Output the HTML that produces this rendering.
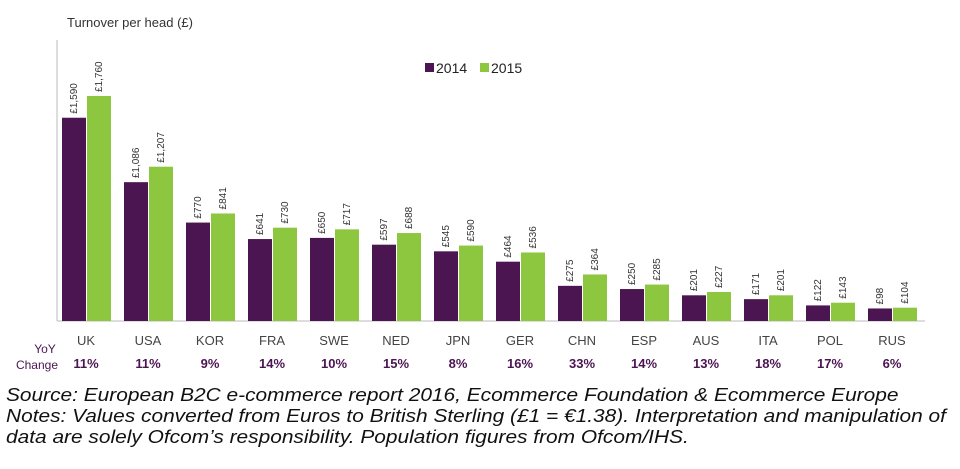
<!DOCTYPE html>
<html><head><meta charset="utf-8"><style>
body{margin:0;background:#fff;width:960px;height:469px;overflow:hidden;font-family:"Liberation Sans",sans-serif}
svg{display:block}
.note{position:absolute;left:6px;font-style:italic;font-size:18px;color:#111;white-space:nowrap;line-height:21px;transform:scaleX(1.16);transform-origin:0 0}
</style></head><body>
<svg id="chart" width="960" height="469" style="position:absolute;left:0;top:0"></svg>
<div class="note" style="top:385px">Source: European B2C e-commerce report 2016, Ecommerce Foundation &amp; Ecommerce Europe<br>Notes: Values converted from Euros to British Sterling (£1 = €1.38). Interpretation and manipulation of<br>data are solely Ofcom’s responsibility. Population figures from Ofcom/IHS.</div>
<script>
const categories=["UK","USA","KOR","FRA","SWE","NED","JPN","GER","CHN","ESP","AUS","ITA","POL","RUS"];
const values2014=[1590,1086,770,641,650,597,545,464,275,250,201,171,122,98];
const values2015=[1760,1207,841,730,717,688,590,536,364,285,227,201,143,104];
const yoy=["11%","11%","9%","14%","10%","15%","8%","16%","33%","14%","13%","18%","17%","6%"];
const svg=document.getElementById('chart');const NS="http://www.w3.org/2000/svg";
const base=321,scale=225/1760,x0=62,step=62,bw=24;
const y=v=>base-v*scale;const xg=i=>x0+i*step;
function mk(t,a,txt){const e=document.createElementNS(NS,t);for(const k in a)e.setAttribute(k,a[k]);if(txt!=null)e.textContent=txt;svg.appendChild(e);return e;}
const fmt=v=>"£"+v.toLocaleString("en-GB");
let e;
e=mk('line',{x1:57,y1:40,x2:57,y2:base,stroke:'#bbb','stroke-width':1});


e=mk('line',{x1:57,y1:base,x2:925,y2:base,stroke:'#bbb','stroke-width':1});


e=mk('text',{x:67,y:27,'font-size':13,fill:'#333'},'Turnover per head (£)');


categories.forEach((c,i)=>{
 const xa=xg(i),xb=xa+bw+1;
 e=mk('rect',{x:xa,y:y(values2014[i]),width:bw,height:values2014[i]*scale,fill:'#4b1552'});
 
 
 e=mk('rect',{x:xb,y:y(values2015[i]),width:bw,height:values2015[i]*scale,fill:'#8dc63f'});
 
 
 [[xa,values2014[i]],[xb,values2015[i]]].forEach(([xx,v],k)=>{
  const cx=xx+bw/2+3,cy=y(v)-4;
  e=mk('text',{x:cx,y:cy,'font-size':10,fill:'#333',transform:`rotate(-90 ${cx} ${cy})`},fmt(v));
  
  
 });
 e=mk('text',{x:xa+bw,y:345,'font-size':13,fill:'#444','text-anchor':'middle'},c);
 
 
 e=mk('text',{x:xa+bw,y:368,'font-size':13,'font-weight':'bold',fill:'#4b1552','text-anchor':'middle'},yoy[i]);
 
 
});
e=mk('text',{x:45,y:353,'font-size':12,fill:'#4b1552','text-anchor':'middle'},'YoY');


e=mk('text',{x:37,y:369,'font-size':12,fill:'#4b1552','text-anchor':'middle'},'Change');


e=mk('rect',{x:425,y:63,width:9,height:9,fill:'#4b1552'});


e=mk('text',{x:436,y:73,'font-size':14,fill:'#222'},'2014');


e=mk('rect',{x:480,y:63,width:9,height:9,fill:'#8dc63f'});


e=mk('text',{x:491,y:73,'font-size':14,fill:'#222'},'2015');


</script>
</body></html>
